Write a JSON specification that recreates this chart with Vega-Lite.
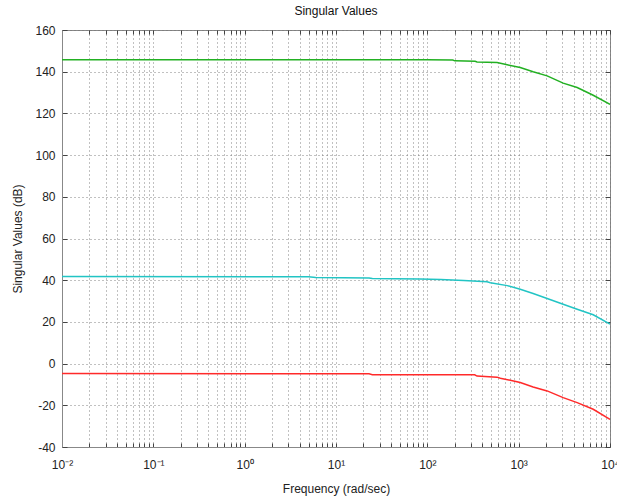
{
  "$schema": "https://vega.github.io/schema/vega-lite/v6.json",
  "width": 548,
  "height": 417,
  "autosize": "none",
  "padding": {"left": 62, "top": 30, "right": 7, "bottom": 56},
  "background": "white",
  "config": {
    "view": {"stroke": "#888", "strokeWidth": 1},
    "font": "Liberation Sans",
    "axis": {"labelFont": "Liberation Sans", "titleFont": "Liberation Sans", "labelColor": "#222", "titleColor": "#222", "titleFontWeight": "normal", "labelFontSize": 12, "titleFontSize": 12}
  },
  "title": {"text": "Singular Values", "fontSize": 12, "fontWeight": "normal", "font": "Liberation Sans", "color": "#111", "offset": 6},
  "data": {"values": [
    {"f": 0.01, "sv": 145.7, "s": "s1"},
    {"f": 1, "sv": 145.7, "s": "s1"},
    {"f": 100, "sv": 145.7, "s": "s1"},
    {"f": 190, "sv": 145.6, "s": "s1"},
    {"f": 200, "sv": 145.2, "s": "s1"},
    {"f": 334, "sv": 145.0, "s": "s1"},
    {"f": 350, "sv": 144.7, "s": "s1"},
    {"f": 580, "sv": 144.4, "s": "s1"},
    {"f": 750, "sv": 143.3, "s": "s1"},
    {"f": 1040, "sv": 142.0, "s": "s1"},
    {"f": 1440, "sv": 140.0, "s": "s1"},
    {"f": 2050, "sv": 138.0, "s": "s1"},
    {"f": 3070, "sv": 134.5, "s": "s1"},
    {"f": 4370, "sv": 132.4, "s": "s1"},
    {"f": 6550, "sv": 128.7, "s": "s1"},
    {"f": 10000, "sv": 124.3, "s": "s1"},
    {"f": 0.01, "sv": 41.8, "s": "s2"},
    {"f": 5, "sv": 41.6, "s": "s2"},
    {"f": 6, "sv": 41.3, "s": "s2"},
    {"f": 23, "sv": 41.1, "s": "s2"},
    {"f": 25, "sv": 40.8, "s": "s2"},
    {"f": 83, "sv": 40.6, "s": "s2"},
    {"f": 140, "sv": 40.3, "s": "s2"},
    {"f": 250, "sv": 39.8, "s": "s2"},
    {"f": 450, "sv": 39.2, "s": "s2"},
    {"f": 490, "sv": 38.8, "s": "s2"},
    {"f": 750, "sv": 37.4, "s": "s2"},
    {"f": 1040, "sv": 35.7, "s": "s2"},
    {"f": 1440, "sv": 33.6, "s": "s2"},
    {"f": 2050, "sv": 31.2, "s": "s2"},
    {"f": 3070, "sv": 28.5, "s": "s2"},
    {"f": 4370, "sv": 26.1, "s": "s2"},
    {"f": 6550, "sv": 23.4, "s": "s2"},
    {"f": 10000, "sv": 19.0, "s": "s2"},
    {"f": 0.01, "sv": -4.8, "s": "s3"},
    {"f": 23, "sv": -4.9, "s": "s3"},
    {"f": 25, "sv": -5.3, "s": "s3"},
    {"f": 330, "sv": -5.4, "s": "s3"},
    {"f": 350, "sv": -6.0, "s": "s3"},
    {"f": 580, "sv": -6.5, "s": "s3"},
    {"f": 630, "sv": -7.0, "s": "s3"},
    {"f": 880, "sv": -8.3, "s": "s3"},
    {"f": 1040, "sv": -9.1, "s": "s3"},
    {"f": 1440, "sv": -11.2, "s": "s3"},
    {"f": 2050, "sv": -13.1, "s": "s3"},
    {"f": 3070, "sv": -16.3, "s": "s3"},
    {"f": 4370, "sv": -18.7, "s": "s3"},
    {"f": 6550, "sv": -21.9, "s": "s3"},
    {"f": 10000, "sv": -26.8, "s": "s3"}
  ]},
  "layer": [
    {
      "mark": {"type": "line", "strokeWidth": 1.5, "clip": true},
      "encoding": {
        "x": {"field": "f", "type": "quantitative",
          "scale": {"type": "log", "domain": [0.01, 10000], "nice": false},
          "axis": {"orient": "bottom", "title": "Frequency (rad/sec)", "titlePadding": 13,
            "values": [0.01,0.02,0.03,0.04,0.05,0.06,0.07,0.08,0.09,0.1,0.2,0.3,0.4,0.5,0.6,0.7,0.8,0.9,1,2,3,4,5,6,7,8,9,10,20,30,40,50,60,70,80,90,100,200,300,400,500,600,700,800,900,1000,2000,3000,4000,5000,6000,7000,8000,9000,10000],
            "labelExpr": "abs(log(datum.value)/LN10 - round(log(datum.value)/LN10)) < 0.001 ? '10' + (round(log(datum.value)/LN10) == -2 ? '⁻²' : round(log(datum.value)/LN10) == -1 ? '⁻¹' : round(log(datum.value)/LN10) == 0 ? '⁰' : round(log(datum.value)/LN10) == 1 ? '¹' : round(log(datum.value)/LN10) == 2 ? '²' : round(log(datum.value)/LN10) == 3 ? '³' : '⁴') : ''",
            "labelOverlap": false, "labelFlush": false, "labelBound": false,
            "grid": true, "gridDash": [1, 3], "gridColor": "#777", "gridOpacity": 0.9,
            "ticks": true, "tickSize": -4, "tickColor": "#444", "labelPadding": 16,
            "domainColor": "#888"}},
        "y": {"field": "sv", "type": "quantitative",
          "scale": {"domain": [-40, 160], "nice": false, "zero": false},
          "axis": {"orient": "left", "title": "Singular Values (dB)", "titlePadding": 10,
            "values": [-40,-20,0,20,40,60,80,100,120,140,160],
            "labelExpr": "'' + datum.value",
            "grid": true, "gridDash": [1, 3], "gridColor": "#777", "gridOpacity": 0.9,
            "ticks": true, "tickSize": -5, "tickColor": "#444", "labelPadding": 12,
            "domainColor": "#888"}},
        "color": {"field": "s", "type": "nominal", "legend": null,
          "scale": {"domain": ["s1", "s2", "s3"], "range": ["#22b022", "#22c4c4", "#ff2a2a"]}}
      }
    },
    {
      "mark": {"type": "point", "opacity": 0},
      "encoding": {
        "x": {"field": "f", "type": "quantitative",
          "scale": {"type": "log", "domain": [0.01, 10000], "nice": false},
          "axis": {"orient": "top", "title": null, "labels": false, "grid": false, "domain": false,
            "values": [0.01,0.02,0.03,0.04,0.05,0.06,0.07,0.08,0.09,0.1,0.2,0.3,0.4,0.5,0.6,0.7,0.8,0.9,1,2,3,4,5,6,7,8,9,10,20,30,40,50,60,70,80,90,100,200,300,400,500,600,700,800,900,1000,2000,3000,4000,5000,6000,7000,8000,9000,10000],
            "ticks": true, "tickSize": -4, "tickColor": "#444"}},
        "y": {"field": "sv", "type": "quantitative",
          "scale": {"domain": [-40, 160], "nice": false, "zero": false},
          "axis": {"orient": "right", "title": null, "labels": false, "grid": false, "domain": false,
            "values": [-40,-20,0,20,40,60,80,100,120,140,160],
            "ticks": true, "tickSize": -5, "tickColor": "#444"}}
      }
    }
  ]
}
